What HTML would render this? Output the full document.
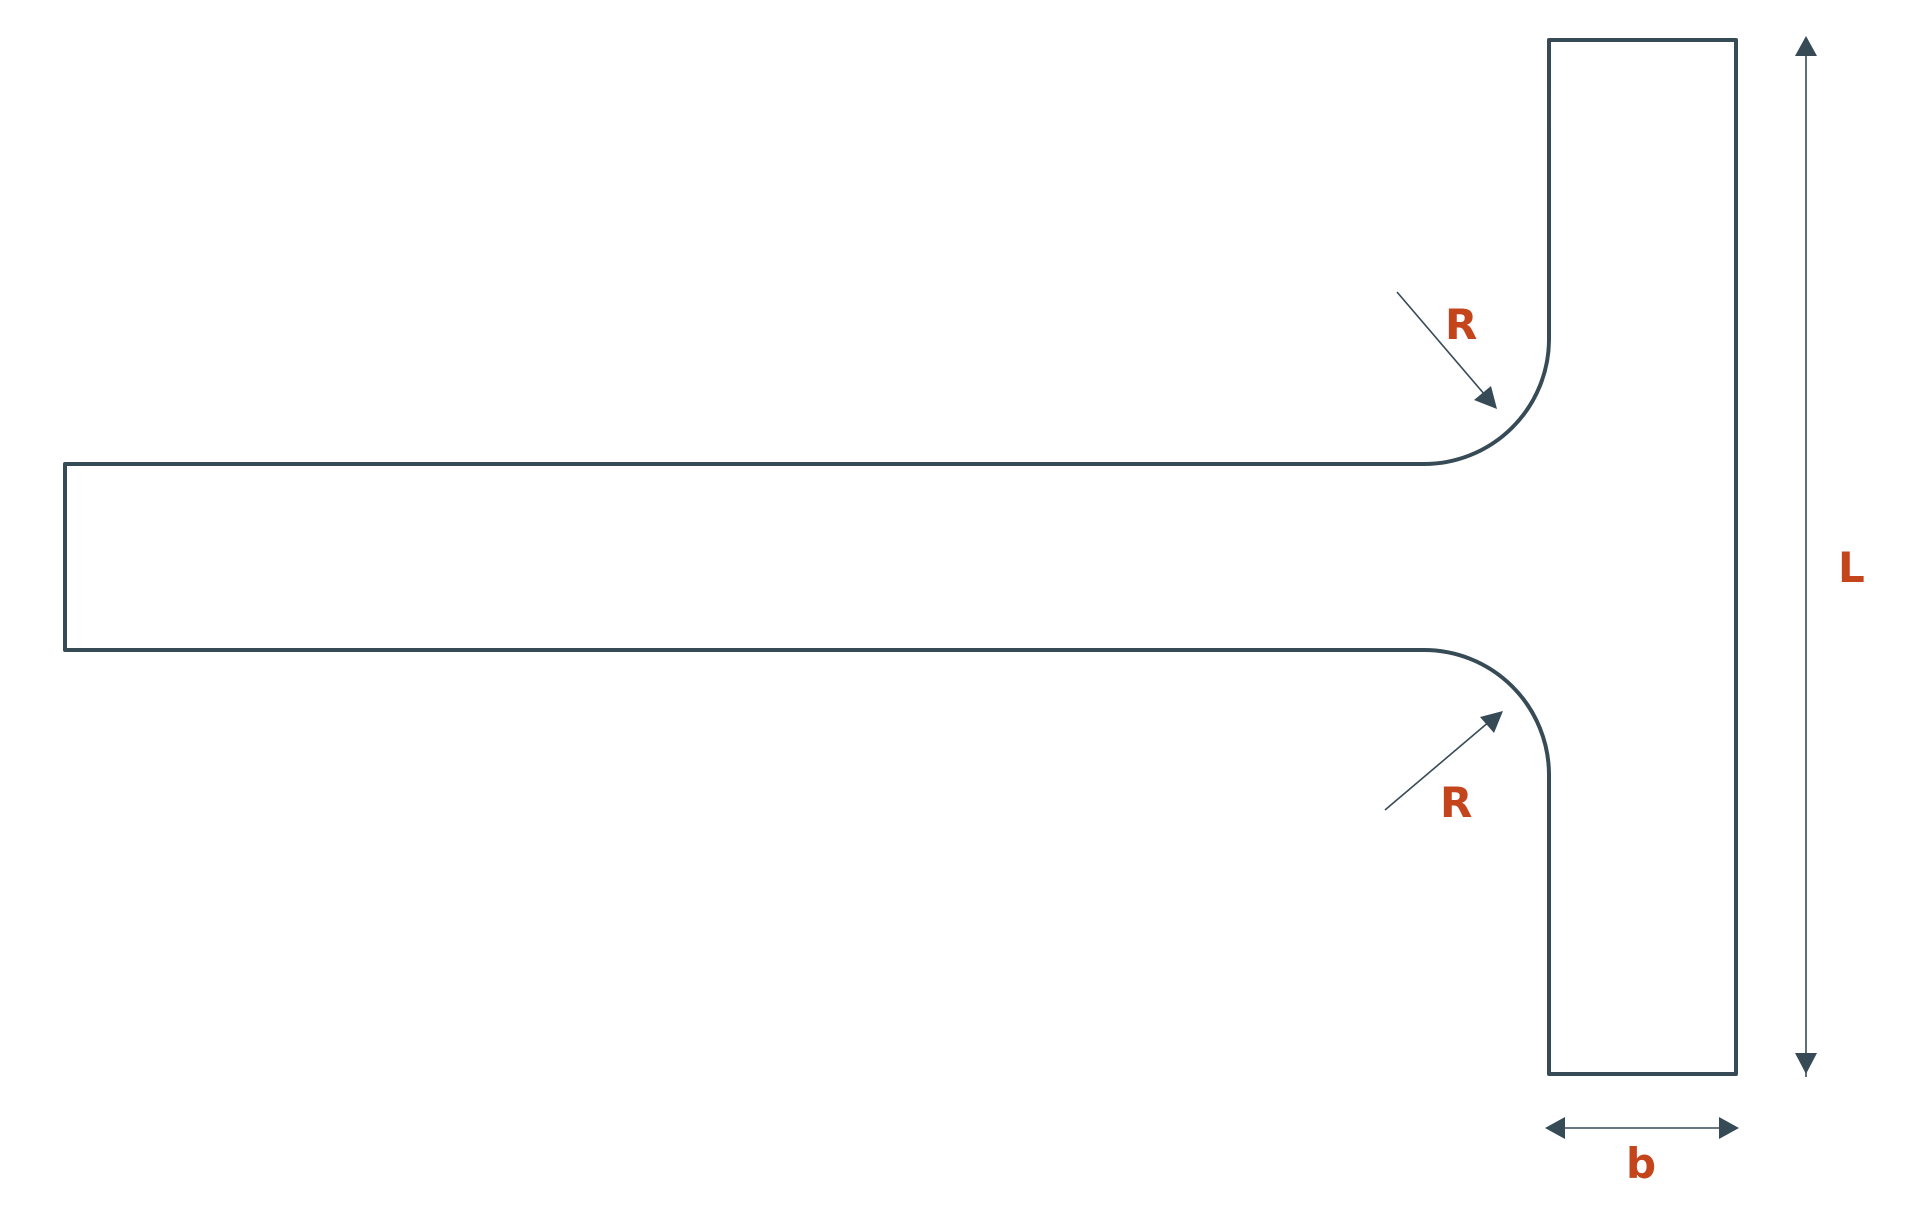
<!DOCTYPE html>
<html><head><meta charset="utf-8"><style>
html,body{margin:0;padding:0;background:#fff;}
svg{display:block;}
text{font-family:"DejaVu Sans","Liberation Sans",sans-serif;font-weight:bold;fill:#c4441c;}
</style></head><body>
<svg width="1920" height="1207" viewBox="0 0 1920 1207" xmlns="http://www.w3.org/2000/svg">
<path d="M65 464 L1424 464 A125 125 0 0 0 1549 340 L1549 40 L1736 40 L1736 1074 L1549 1074 L1549 774 A125 125 0 0 0 1424 650 L65 650 Z" fill="none" stroke="#374b56" stroke-width="4" stroke-linejoin="round"/>
<g stroke="#374b56" stroke-width="1.6" fill="#374b56">
<line x1="1806" y1="50" x2="1806" y2="1077"/>
<polygon points="1806,36 1795,56 1817,56" stroke="none"/>
<polygon points="1806,1074 1795,1053 1817,1053" stroke="none"/>
<line x1="1560" y1="1128" x2="1725" y2="1128"/>
<polygon points="1545,1128 1565,1117 1565,1139" stroke="none"/>
<polygon points="1739,1128 1719,1117 1719,1139" stroke="none"/>
<line x1="1397" y1="292" x2="1485" y2="395"/>
<polygon points="1497,409 1474,400 1491,386" stroke="none"/>
<line x1="1385" y1="810" x2="1490" y2="721"/>
<polygon points="1503,711 1494,733 1480,717" stroke="none"/>
</g>
<text x="1445" y="339" font-size="42">R</text>
<text x="1440" y="817" font-size="42">R</text>
<text x="1838" y="582" font-size="42">L</text>
<text x="1626" y="1178" font-size="42">b</text>
</svg>
</body></html>
